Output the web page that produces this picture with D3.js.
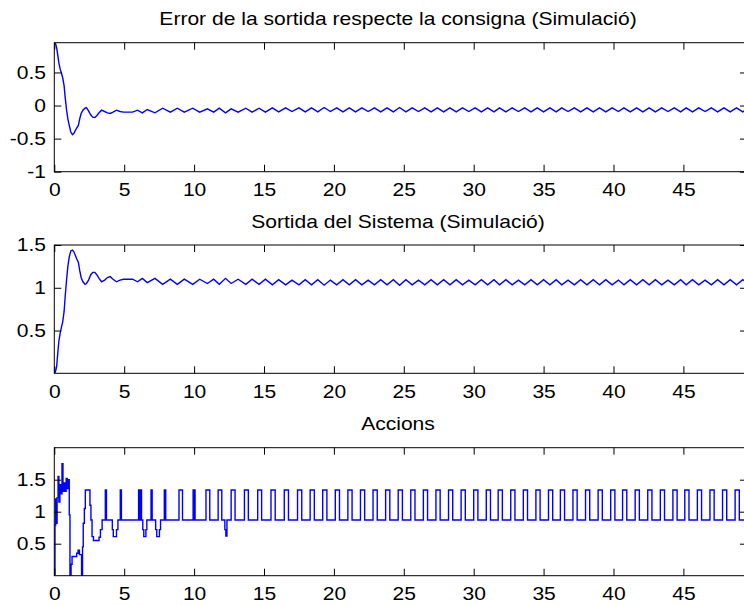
<!DOCTYPE html>
<html>
<head>
<meta charset="utf-8">
<script src="https://cdn.jsdelivr.net/npm/d3@7"></script>
<style>
  html, body { margin: 0; padding: 0; background: #ffffff; }
  svg { display: block; }
  text { font-family: "Liberation Sans", Arial, Helvetica, sans-serif; }
</style>
</head>
<body>
<svg id="fig" width="744" height="606"></svg>
<script>
// ---- tick labels and titles ----
const xTicks = [0, 5, 10, 15, 20, 25, 30, 35, 40, 45];
const errTicks = [-1, -0.5, 0, 0.5];
const outTicks = [0.5, 1, 1.5];
const actTicks = [0.5, 1, 1.5];
const titles = [
  "Error de la sortida respecte la consigna (Simulació)",
  "Sortida del Sistema (Simulació)",
  "Accions"
];

// ---- error of the output w.r.t. the set point: [time, value] ----
const errorSeries = [
  [0, 0.95], [0.1, 0.93], [0.17, 0.87], [0.25, 0.76], [0.33, 0.64], [0.42, 0.55],
  [0.5, 0.5], [0.6, 0.42], [0.7, 0.3], [0.78, 0.12], [0.88, -0.07], [0.97, -0.2],
  [1.07, -0.3], [1.18, -0.4], [1.3, -0.44], [1.4, -0.42], [1.5, -0.38], [1.6, -0.34],
  [1.72, -0.3], [1.82, -0.2], [1.92, -0.12], [2.05, -0.07], [2.2, -0.04], [2.3, -0.03],
  [2.45, -0.08], [2.6, -0.14], [2.75, -0.175], [2.9, -0.18], [3.05, -0.15], [3.2, -0.11],
  [3.38, -0.07], [3.6, -0.09], [3.8, -0.11], [4.0, -0.12], [4.2, -0.1], [4.45, -0.07],
  [4.7, -0.09], [4.95, -0.1], [5.6, -0.1], [5.95, -0.07], [6.3, -0.11], [6.65, -0.06],
  [7.2, -0.11], [7.75, -0.04], [8.3, -0.1], [8.8, -0.04], [9.3, -0.1], [9.9, -0.04],
  [10.4, -0.1], [10.95, -0.05], [11.4, -0.1], [11.8, -0.04], [12.25, -0.11], [12.65, -0.05],
  [13.15, -0.1], [13.7, -0.04], [14.15, -0.1], [14.65, -0.04], [15.1, -0.1],
  [15.6, -0.035], [16.05, -0.095], [16.55, -0.035], [17.0, -0.09], [17.5, -0.035], [17.95, -0.095],
  [18.4, -0.035], [18.85, -0.095], [19.3, -0.03], [19.75, -0.09], [20.2, -0.035], [20.65, -0.095],
  [21.1, -0.035], [21.55, -0.095], [22.0, -0.035], [22.45, -0.09], [22.9, -0.035], [23.35, -0.095],
  [23.8, -0.035], [24.25, -0.095], [24.7, -0.03], [25.15, -0.095], [25.6, -0.035], [26.05, -0.09],
  [26.5, -0.035], [26.95, -0.095], [27.4, -0.035], [27.85, -0.095], [28.3, -0.035], [28.75, -0.095],
  [29.2, -0.035], [29.65, -0.09], [30.1, -0.035], [30.55, -0.095], [31.0, -0.035], [31.45, -0.095],
  [31.85, -0.035], [32.3, -0.095], [32.75, -0.035], [33.2, -0.09], [33.65, -0.035], [34.1, -0.095],
  [34.55, -0.035], [35.0, -0.095], [35.45, -0.035], [35.9, -0.095], [36.3, -0.035], [36.75, -0.09],
  [37.2, -0.035], [37.65, -0.095], [38.1, -0.035], [38.55, -0.095], [39.0, -0.035], [39.45, -0.095],
  [39.9, -0.035], [40.35, -0.09], [40.75, -0.035], [41.2, -0.095], [41.65, -0.035], [42.1, -0.095],
  [42.55, -0.035], [43.0, -0.095], [43.45, -0.035], [43.9, -0.09], [44.35, -0.035], [44.8, -0.095],
  [45.2, -0.035], [45.65, -0.095], [46.1, -0.035], [46.55, -0.09], [47.0, -0.035], [47.45, -0.095],
  [47.9, -0.035], [48.35, -0.095], [48.8, -0.035], [49.25, -0.095], [49.55, -0.06]
];

// ---- system output: [time, value] ----
const outputSeries = [
  [0, 0.0], [0.1, 0.03], [0.17, 0.08], [0.25, 0.24], [0.33, 0.38], [0.42, 0.47],
  [0.5, 0.53], [0.6, 0.6], [0.7, 0.72], [0.78, 0.9], [0.88, 1.1], [0.97, 1.25],
  [1.07, 1.36], [1.18, 1.43], [1.3, 1.44], [1.4, 1.42], [1.5, 1.38], [1.6, 1.34],
  [1.72, 1.3], [1.82, 1.2], [1.92, 1.12], [2.05, 1.07], [2.2, 1.04], [2.3, 1.05],
  [2.45, 1.09], [2.6, 1.15], [2.75, 1.18], [2.9, 1.18], [3.05, 1.15], [3.2, 1.11],
  [3.38, 1.07], [3.6, 1.09], [3.8, 1.12], [4.0, 1.13], [4.2, 1.1], [4.45, 1.07],
  [4.7, 1.09], [4.95, 1.1], [5.6, 1.1], [5.95, 1.07], [6.3, 1.11], [6.65, 1.06],
  [7.2, 1.11], [7.75, 1.04], [8.3, 1.1], [8.8, 1.04], [9.3, 1.1], [9.9, 1.04],
  [10.4, 1.1], [10.95, 1.05], [11.4, 1.1], [11.8, 1.04], [12.25, 1.11], [12.65, 1.05],
  [13.15, 1.1], [13.7, 1.04], [14.15, 1.1], [14.65, 1.04], [15.1, 1.1],
  [15.6, 1.035], [16.05, 1.095], [16.55, 1.035], [17.0, 1.09], [17.5, 1.035], [17.95, 1.095],
  [18.4, 1.035], [18.85, 1.095], [19.3, 1.03], [19.75, 1.09], [20.2, 1.035], [20.65, 1.095],
  [21.1, 1.035], [21.55, 1.095], [22.0, 1.035], [22.45, 1.09], [22.9, 1.035], [23.35, 1.095],
  [23.8, 1.035], [24.25, 1.095], [24.7, 1.03], [25.15, 1.095], [25.6, 1.035], [26.05, 1.09],
  [26.5, 1.035], [26.95, 1.095], [27.4, 1.035], [27.85, 1.095], [28.3, 1.035], [28.75, 1.095],
  [29.2, 1.035], [29.65, 1.09], [30.1, 1.035], [30.55, 1.095], [31.0, 1.035], [31.45, 1.095],
  [31.85, 1.035], [32.3, 1.095], [32.75, 1.035], [33.2, 1.09], [33.65, 1.035], [34.1, 1.095],
  [34.55, 1.035], [35.0, 1.095], [35.45, 1.035], [35.9, 1.095], [36.3, 1.035], [36.75, 1.09],
  [37.2, 1.035], [37.65, 1.095], [38.1, 1.035], [38.55, 1.095], [39.0, 1.035], [39.45, 1.095],
  [39.9, 1.035], [40.35, 1.09], [40.75, 1.035], [41.2, 1.095], [41.65, 1.035], [42.1, 1.095],
  [42.55, 1.035], [43.0, 1.095], [43.45, 1.035], [43.9, 1.09], [44.35, 1.035], [44.8, 1.095],
  [45.2, 1.035], [45.65, 1.095], [46.1, 1.035], [46.55, 1.09], [47.0, 1.035], [47.45, 1.095],
  [47.9, 1.035], [48.35, 1.095], [48.8, 1.035], [49.25, 1.095], [49.55, 1.06]
];

// ---- control action, held between samples: [switch time, level] ----
const actionSteps = [
  [0, 0.02], [0.05, 0.79], [0.1, 1.2], [0.15, 0.82], [0.2, 1.22], [0.27, 1.55],
  [0.33, 1.15], [0.4, 1.42], [0.47, 1.28], [0.55, 1.75], [0.62, 1.32], [0.7, 1.45],
  [0.78, 1.32], [0.85, 1.52], [0.93, 1.36], [1.0, 1.5], [1.07, 0.95], [1.12, 0.0],
  [1.2, 0.18], [1.27, 0.3], [1.6, 0.35], [1.7, 0.4], [1.8, 0.33], [1.95, 0.0],
  [2.02, 0.45], [2.07, 0.82], [2.15, 1.05], [2.22, 1.34], [2.55, 1.1], [2.62, 0.87],
  [2.7, 0.61], [2.8, 0.55], [3.2, 0.6], [3.3, 0.72], [3.42, 0.87], [3.65, 1.34],
  [3.73, 0.87], [4.15, 0.72], [4.22, 0.61], [4.45, 0.72], [4.55, 0.87], [4.72, 1.34],
  [4.8, 0.87], [6.03, 1.34], [6.1, 0.87], [6.16, 1.34], [6.24, 0.87], [6.33, 0.72],
  [6.4, 0.61], [6.55, 0.72], [6.62, 0.87], [6.92, 1.34], [7.0, 0.87], [7.25, 0.72],
  [7.33, 0.61], [7.52, 0.72], [7.6, 0.87], [7.87, 1.34], [7.97, 0.87], [8.92, 1.34],
  [9.17, 0.87], [9.93, 1.34], [9.98, 0.87], [10.02, 1.34], [10.07, 0.87], [10.85, 1.34],
  [11.12, 0.87], [11.72, 1.34], [11.98, 0.87], [12.2, 0.72], [12.27, 0.62], [12.35, 0.87],
  [12.65, 1.34], [12.93, 0.87], [13.6, 1.34], [13.88, 0.87], [14.55, 1.34], [14.83, 0.87],
  [15.5, 1.34], [15.8, 0.87], [16.45, 1.34], [16.75, 0.87], [17.4, 1.34], [17.7, 0.87],
  [18.3, 1.34], [18.6, 0.87], [19.2, 1.34], [19.5, 0.87], [20.1, 1.34], [20.4, 0.87],
  [21.0, 1.34], [21.3, 0.87], [21.9, 1.34], [22.2, 0.87], [22.8, 1.34], [23.1, 0.87],
  [23.7, 1.34], [24.0, 0.87], [24.6, 1.34], [24.9, 0.87], [25.5, 1.34], [25.8, 0.87],
  [26.4, 1.34], [26.7, 0.87], [27.3, 1.34], [27.6, 0.87], [28.2, 1.34], [28.5, 0.87],
  [29.1, 1.34], [29.4, 0.87], [30.0, 1.34], [30.3, 0.87], [30.9, 1.34], [31.2, 0.87],
  [31.75, 1.34], [32.05, 0.87], [32.65, 1.34], [32.95, 0.87], [33.55, 1.34], [33.85, 0.87],
  [34.45, 1.34], [34.75, 0.87], [35.35, 1.34], [35.65, 0.87], [36.2, 1.34], [36.5, 0.87],
  [37.1, 1.34], [37.4, 0.87], [38.0, 1.34], [38.3, 0.87], [38.9, 1.34], [39.2, 0.87],
  [39.8, 1.34], [40.1, 0.87], [40.65, 1.34], [40.95, 0.87], [41.55, 1.34], [41.85, 0.87],
  [42.45, 1.34], [42.75, 0.87], [43.35, 1.34], [43.65, 0.87], [44.25, 1.34], [44.55, 0.87],
  [45.1, 1.34], [45.4, 0.87], [46.0, 1.34], [46.3, 0.87], [46.9, 1.34], [47.2, 0.87],
  [47.8, 1.34], [48.1, 0.87], [48.7, 1.34], [49.0, 0.87], [49.55, 0.87]
];

// ---- layout ----
const svg = d3.select("#fig");
const left = 54.3, right = 747;
const SX = 1.17;           // horizontal stretch of the screen font
const FONT = 18;
const TICK = 7;
const titleX = 398;

const x = d3.scaleLinear().domain([0, 49.55]).range([left, right]);

const panels = [
  { title: titles[0], top: 42.7, bottom: 171.7, yDomain: [-1, 0.95], yTicks: errTicks, data: errorSeries, step: false },
  { title: titles[1], top: 245, bottom: 373.3, yDomain: [0, 1.5], yTicks: outTicks, data: outputSeries, step: false },
  { title: titles[2], top: 447.7, bottom: 575.7, yDomain: [0, 2], yTicks: actTicks, data: actionSteps, step: true }
];

function styleAxis(sel) {
  sel.select(".domain").remove();
  sel.selectAll(".tick line").attr("stroke", "#000").attr("stroke-width", 1);
  sel.selectAll(".tick text")
    .attr("fill", "#000")
    .attr("font-size", FONT)
    .attr("font-family", "Liberation Sans, Arial, sans-serif");
}

panels.forEach((p, i) => {
  const y = d3.scaleLinear().domain(p.yDomain).range([p.bottom, p.top]);
  const g = svg.append("g");

  g.append("clipPath").attr("id", "clip" + i)
    .append("rect")
    .attr("x", left).attr("y", p.top)
    .attr("width", right - left).attr("height", p.bottom - p.top);

  const line = d3.line().x(d => x(d[0])).y(d => y(d[1]));
  if (p.step) line.curve(d3.curveStepAfter);

  g.append("path")
    .datum(p.data)
    .attr("clip-path", `url(#clip${i})`)
    .attr("fill", "none")
    .attr("stroke", "#0000ff")
    .attr("stroke-width", 1.4)
    .attr("stroke-linejoin", "miter")
    .attr("d", line);

  // bottom axis with labels, ticks pointing inward
  const xb = g.append("g").attr("transform", `translate(0,${p.bottom})`)
    .call(d3.axisBottom(x).tickValues(xTicks).tickSizeInner(-TICK).tickSizeOuter(0)
      .tickPadding(12).tickFormat(d => String(d)));
  styleAxis(xb);
  xb.selectAll(".tick text").attr("transform", `scale(${SX},1)`);

  // top axis ticks only
  const xt = g.append("g").attr("transform", `translate(0,${p.top})`)
    .call(d3.axisTop(x).tickValues(xTicks).tickSizeInner(-TICK).tickSizeOuter(0).tickFormat(""));
  styleAxis(xt);

  // left axis with labels
  const yl = g.append("g").attr("transform", `translate(${left},0)`)
    .call(d3.axisLeft(y).tickValues(p.yTicks).tickSizeInner(-TICK).tickSizeOuter(0)
      .tickPadding(7.1).tickFormat(d => String(d)));
  styleAxis(yl);
  yl.selectAll(".tick text").attr("transform", `scale(${SX},1)`);

  // right axis ticks only
  const yr = g.append("g").attr("transform", `translate(${right},0)`)
    .call(d3.axisRight(y).tickValues(p.yTicks).tickSizeInner(-TICK).tickSizeOuter(0).tickFormat(""));
  styleAxis(yr);

  // axes box
  g.append("rect")
    .attr("x", left).attr("y", p.top)
    .attr("width", right - left).attr("height", p.bottom - p.top)
    .attr("fill", "none").attr("stroke", "#000").attr("stroke-width", 1);

  // title
  g.append("text")
    .attr("transform", `translate(${titleX},${p.top - 17.5}) scale(${SX},1)`)
    .attr("text-anchor", "middle")
    .attr("font-size", FONT)
    .attr("fill", "#000")
    .text(p.title);
});
</script>
</body>
</html>
